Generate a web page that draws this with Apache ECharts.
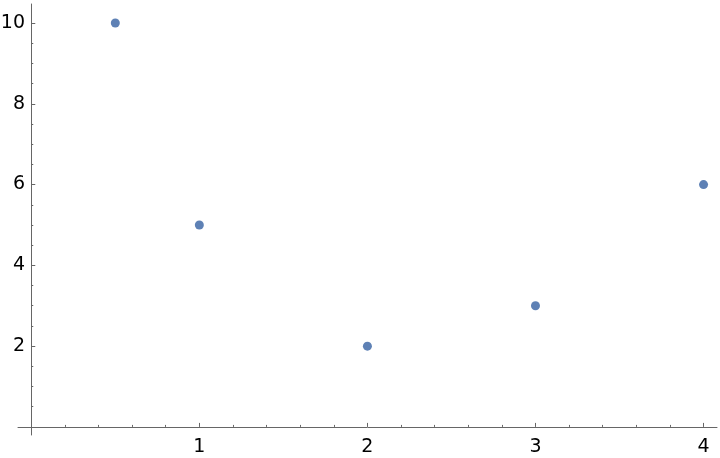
<!DOCTYPE html>
<html lang="en">
  <head>
    <meta charset="UTF-8" />
    <title>ListPlot</title>
    <style>
      html, body { margin: 0; padding: 0; background: #fff; }
      .box { width: 720px; height: 458px; }
    </style>
  </head>
  <body>
    <div class="box"></div>
    <script src="https://cdn.jsdelivr.net/npm/echarts@6/dist/echarts.min.js"></script>
    <script>
      var myChart = echarts.init(document.querySelector(".box"));

      // data points (x, y)
      var xs = [0.5, 1, 2, 3, 4];
      var ys = [10, 5, 2, 3, 6];

      // tick values
      var xMajor = [1, 2, 3, 4];
      var xMinor = [0.2, 0.4, 0.6, 0.8, 1.2, 1.4, 1.6, 1.8, 2.2, 2.4, 2.6, 2.8, 3.2, 3.4, 3.6, 3.8];
      var yMajor = [2, 4, 6, 8, 10];
      var yMinor = [0.5, 1, 1.5, 2.5, 3, 3.5, 4.5, 5, 5.5, 6.5, 7, 7.5, 8.5, 9, 9.5, 10.5];

      var points = xs.map(function (x, i) { return [x, ys[i]]; });

      var axisColor = '#666666';
      var labelStyle = { color: '#000', fontSize: 19, fontFamily: 'DejaVu Sans' };

      function xAx(ticks, len, labels) {
        return {
          type: 'value', min: -0.079, max: 4.08,
          axisLine: { show: labels, onZero: true, lineStyle: { color: axisColor, width: 1 } },
          axisTick: { show: true, inside: true, length: len, customValues: ticks,
                      lineStyle: { color: axisColor } },
          axisLabel: labels ? Object.assign({ customValues: xMajor, margin: 3 }, labelStyle) : { show: false },
          splitLine: { show: false }
        };
      }
      function yAx(ticks, len, labels) {
        return {
          type: 'value', min: -0.2, max: 10.47,
          axisLine: { show: labels, onZero: true, lineStyle: { color: axisColor, width: 1 } },
          axisTick: { show: true, inside: true, length: len, customValues: ticks,
                      lineStyle: { color: axisColor } },
          axisLabel: labels ? Object.assign({ customValues: yMajor, margin: -7 }, labelStyle) : { show: false },
          splitLine: { show: false }
        };
      }

      var option = {
        animation: false,
        grid: { left: 18, right: 3, top: 4, bottom: 23, containLabel: false, outerBoundsMode: 'none' },
        xAxis: [xAx(xMinor, 2, true), Object.assign(xAx(xMajor, 4, false), { position: 'bottom' })],
        yAxis: [yAx(yMinor, 2, true), Object.assign(yAx(yMajor, 4, false), { position: 'left' })],
        series: [{
          type: 'scatter',
          symbolSize: 9,
          itemStyle: { color: '#5E81B5', opacity: 1 },
          data: points
        }]
      };
      myChart.setOption(option);
    </script>
  </body>
</html>
